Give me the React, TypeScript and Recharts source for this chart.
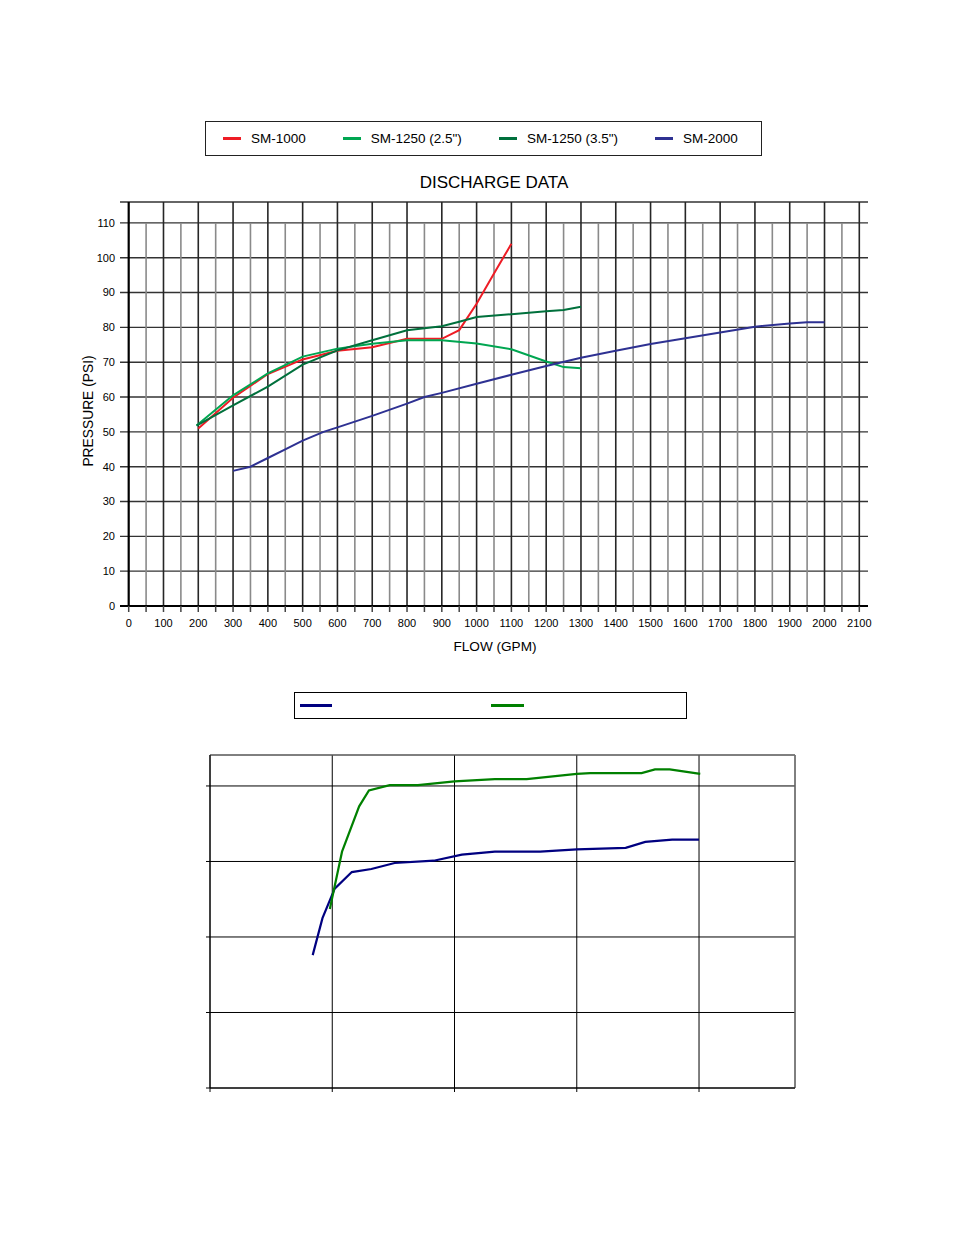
import { LineChart, Line, XAxis, YAxis, CartesianGrid, ReferenceLine } from "recharts";

const FONT = '"Liberation Sans", Arial, Helvetica, sans-serif';

// ---- discharge chart (flow in GPM vs pressure in PSI) ----
const flowTicks = [0, 100, 200, 300, 400, 500, 600, 700, 800, 900, 1000, 1100, 1200, 1300, 1400, 1500, 1600, 1700, 1800, 1900, 2000, 2100];
const flowMinorTicks = [50, 150, 250, 350, 450, 550, 650, 750, 850, 950, 1050, 1150, 1250, 1350, 1450, 1550, 1650, 1750, 1850, 1950, 2050];
const pressureTicks = [0, 10, 20, 30, 40, 50, 60, 70, 80, 90, 100, 110];

const sm1000 = [
  { flow: 200, psi: 51 }, { flow: 300, psi: 59.8 }, { flow: 400, psi: 66.6 }, { flow: 500, psi: 70.8 },
  { flow: 600, psi: 73.3 }, { flow: 700, psi: 74.3 }, { flow: 800, psi: 76.7 }, { flow: 900, psi: 76.7 },
  { flow: 950, psi: 79.2 }, { flow: 1000, psi: 86.8 }, { flow: 1050, psi: 95.5 }, { flow: 1100, psi: 104 },
];
const sm1250Small = [
  { flow: 195, psi: 51.8 }, { flow: 300, psi: 60.5 }, { flow: 400, psi: 66.8 }, { flow: 500, psi: 71.6 },
  { flow: 600, psi: 73.9 }, { flow: 700, psi: 75.3 }, { flow: 800, psi: 76.3 }, { flow: 900, psi: 76.3 },
  { flow: 1000, psi: 75.4 }, { flow: 1100, psi: 73.7 }, { flow: 1200, psi: 70.2 }, { flow: 1250, psi: 68.6 },
  { flow: 1300, psi: 68.3 },
];
const sm1250Large = [
  { flow: 195, psi: 51.8 }, { flow: 300, psi: 57.6 }, { flow: 400, psi: 63 }, { flow: 500, psi: 69.3 },
  { flow: 600, psi: 73.4 }, { flow: 700, psi: 76.3 }, { flow: 800, psi: 79.2 }, { flow: 900, psi: 80.3 },
  { flow: 950, psi: 81.6 }, { flow: 1000, psi: 83 }, { flow: 1100, psi: 83.8 }, { flow: 1200, psi: 84.6 },
  { flow: 1250, psi: 85 }, { flow: 1300, psi: 85.9 },
];
const sm2000 = [
  { flow: 300, psi: 38.8 }, { flow: 350, psi: 40 }, { flow: 400, psi: 42.5 }, { flow: 450, psi: 45 },
  { flow: 500, psi: 47.5 }, { flow: 560, psi: 50 }, { flow: 600, psi: 51.3 }, { flow: 700, psi: 54.6 },
  { flow: 800, psi: 58.1 }, { flow: 850, psi: 60 }, { flow: 900, psi: 61.2 }, { flow: 1000, psi: 63.8 },
  { flow: 1100, psi: 66.4 }, { flow: 1200, psi: 68.9 }, { flow: 1300, psi: 71.3 }, { flow: 1400, psi: 73.3 },
  { flow: 1500, psi: 75.2 }, { flow: 1600, psi: 76.9 }, { flow: 1700, psi: 78.5 }, { flow: 1800, psi: 80.2 },
  { flow: 1900, psi: 81.1 }, { flow: 1950, psi: 81.5 }, { flow: 2000, psi: 81.5 },
];

const pumps = [
  { name: "SM-1000", color: "#ee1c25", data: sm1000 },
  { name: "SM-1250 (2.5\")", color: "#00a651", data: sm1250Small },
  { name: "SM-1250 (3.5\")", color: "#00703c", data: sm1250Large },
  { name: "SM-2000", color: "#2e3192", data: sm2000 },
];

// ---- lower chart (unlabelled) ----
const lowerTicksX = [0, 1, 2, 3, 4];
const lowerTicksY = [0, 1, 2, 3, 4];
const navyCurve = [
  { x: 0.84, y: 1.76 }, { x: 0.92, y: 2.25 }, { x: 1.02, y: 2.64 }, { x: 1.16, y: 2.86 }, { x: 1.32, y: 2.9 },
  { x: 1.51, y: 2.98 }, { x: 1.83, y: 3.01 }, { x: 2.06, y: 3.09 }, { x: 2.33, y: 3.13 }, { x: 2.7, y: 3.13 },
  { x: 3.0, y: 3.16 }, { x: 3.4, y: 3.18 }, { x: 3.56, y: 3.26 }, { x: 3.78, y: 3.29 }, { x: 4.0, y: 3.29 },
];
const greenCurve = [
  { x: 0.98, y: 2.37 }, { x: 1.08, y: 3.13 }, { x: 1.22, y: 3.73 }, { x: 1.3, y: 3.94 }, { x: 1.47, y: 4.01 },
  { x: 1.7, y: 4.01 }, { x: 2.0, y: 4.06 }, { x: 2.33, y: 4.09 }, { x: 2.59, y: 4.09 }, { x: 3.0, y: 4.16 },
  { x: 3.11, y: 4.17 }, { x: 3.53, y: 4.17 }, { x: 3.64, y: 4.22 }, { x: 3.76, y: 4.22 }, { x: 4.01, y: 4.16 },
];

// eslint-disable-next-line @typescript-eslint/no-explicit-any
function FlowTick({ x, y, payload }: any) {
  if (payload.value % 100 !== 0) return <g />;
  return (
    <text x={x} y={y} dy="0.71em" textAnchor="middle" fontSize={11} fill="#000" fontFamily={FONT}>
      {payload.value}
    </text>
  );
}

function EmptyTick() {
  return <g />;
}

function DischargeChart() {
  const allFlowTicks = [...flowTicks, ...flowMinorTicks].sort((a, b) => a - b);
  return (
    <LineChart width={954} height={660} margin={{ top: 202, right: 86, bottom: 24, left: 80 }}>
      <CartesianGrid vertical={false} stroke="#333" strokeWidth={1.4} />
      {flowMinorTicks.map((v) => (
        <ReferenceLine key={"m" + v} segment={[{ x: v, y: 0 }, { x: v, y: 110 }]} stroke="#8a8a8a" strokeWidth={1.6} />
      ))}
      {flowTicks.map((v) => (
        <ReferenceLine
          key={"M" + v}
          segment={[{ x: v, y: 0 }, { x: v, y: 116 }]}
          stroke={v === 0 ? "#000" : "#262626"}
          strokeWidth={v === 0 ? 2.2 : 1.6}
        />
      ))}
      <XAxis
        type="number"
        dataKey="flow"
        domain={[-25, 2125]}
        allowDataOverflow
        ticks={allFlowTicks}
        interval={0}
        tick={<FlowTick />}
        tickSize={6}
        tickMargin={7}
        height={30}
        axisLine={{ stroke: "#000", strokeWidth: 2.2 }}
        tickLine={{ stroke: "#444", strokeWidth: 1.5 }}
      />
      <YAxis
        type="number"
        dataKey="psi"
        domain={[0, 116]}
        allowDataOverflow
        ticks={pressureTicks}
        interval={0}
        width={40}
        tickSize={2}
        tickMargin={3}
        tickLine={false}
        axisLine={false}
        tick={{ fontSize: 11, fill: "#000", fontFamily: FONT }}
      />
      {pumps.map((p) => (
        <Line
          key={p.name}
          data={p.data}
          dataKey="psi"
          name={p.name}
          type="linear"
          stroke={p.color}
          strokeWidth={2}
          dot={false}
          isAnimationActive={false}
        />
      ))}
    </LineChart>
  );
}

function LowerChart() {
  return (
    <LineChart width={954} height={420} margin={{ top: 55, right: 159, bottom: 22, left: 200 }}>
      <CartesianGrid stroke="#000" strokeWidth={1} />
      <ReferenceLine y={4.41} stroke="#808080" strokeWidth={1.2} />
      <ReferenceLine x={4.785} stroke="#808080" strokeWidth={1.2} />
      <XAxis
        type="number"
        dataKey="x"
        domain={[0, 4.785]}
        allowDataOverflow
        ticks={lowerTicksX}
        interval={0}
        tick={<EmptyTick />}
        tickSize={4}
        height={10}
        axisLine={{ stroke: "#000" }}
        tickLine={{ stroke: "#000" }}
      />
      <YAxis
        type="number"
        dataKey="y"
        domain={[0, 4.41]}
        allowDataOverflow
        ticks={lowerTicksY}
        interval={0}
        tick={<EmptyTick />}
        tickSize={4}
        width={10}
        axisLine={{ stroke: "#000" }}
        tickLine={{ stroke: "#000" }}
      />
      <Line data={navyCurve} dataKey="y" type="linear" stroke="#000080" strokeWidth={2.2} dot={false} isAnimationActive={false} />
      <Line data={greenCurve} dataKey="y" type="linear" stroke="#008000" strokeWidth={2.2} dot={false} isAnimationActive={false} />
    </LineChart>
  );
}

export default function App() {
  return (
    <div style={{ position: "absolute", left: 0, top: 0, width: 954, height: 1235, background: "#fff", fontFamily: FONT }}>
      {/* legend box */}
      <div
        style={{
          position: "absolute", left: 205, top: 121, width: 557, height: 35,
          border: "1px solid #222", display: "flex", alignItems: "center", paddingLeft: 17, boxSizing: "border-box",
        }}
      >
        {pumps.map((p) => (
          <div key={p.name} style={{ display: "flex", alignItems: "center", marginRight: 37 }}>
            <div style={{ width: 18, height: 2.5, background: p.color, marginRight: 10 }} />
            <span style={{ fontSize: 13.5, color: "#000", whiteSpace: "nowrap" }}>{p.name}</span>
          </div>
        ))}
      </div>
      <div style={{ position: "absolute", left: 0, width: 988, top: 173, textAlign: "center", fontSize: 17, color: "#000" }}>
        DISCHARGE DATA
      </div>
      <div style={{ position: "absolute", left: 0, top: 0 }}>
        <DischargeChart />
      </div>
      <div
        style={{
          position: "absolute", left: 88, top: 411, transform: "translate(-50%, -50%) rotate(-90deg)",
          fontSize: 13.8, whiteSpace: "nowrap", color: "#000",
        }}
      >
        PRESSURE (PSI)
      </div>
      <div style={{ position: "absolute", left: 0, width: 990, top: 639, textAlign: "center", fontSize: 13.6, color: "#000" }}>
        FLOW (GPM)
      </div>
      {/* lower legend box (no labels) */}
      <div
        style={{
          position: "absolute", left: 294, top: 692, width: 393, height: 27,
          border: "1.5px solid #000", boxSizing: "border-box",
        }}
      >
        <div style={{ position: "absolute", left: 5, top: 11, width: 32, height: 3, background: "#000080" }} />
        <div style={{ position: "absolute", left: 196, top: 11, width: 33, height: 3, background: "#008000" }} />
      </div>
      <div style={{ position: "absolute", left: 0, top: 700 }}>
        <LowerChart />
      </div>
    </div>
  );
}
